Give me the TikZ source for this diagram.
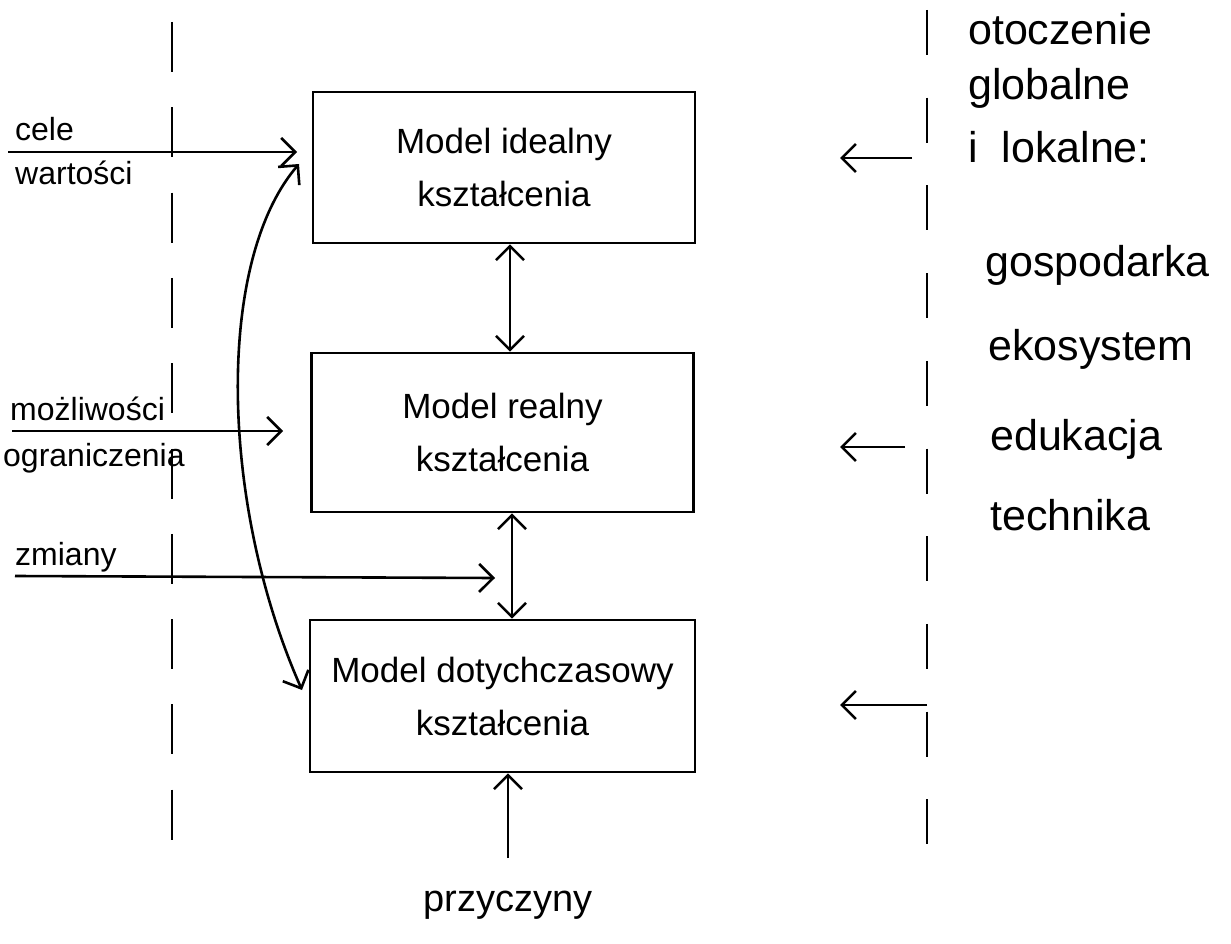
\documentclass[tikz,border=0pt]{standalone}
\usepackage{fontspec}
\setmainfont{Liberation Sans}
\usetikzlibrary{arrows.meta}
\tikzset{
  modelbox/.style={draw, line width=2.6pt, minimum width=382pt, minimum height=152pt, align=center, font=\fontsize{35}{53}\selectfont, inner sep=0pt},
  arr/.style={line width=2.6pt, -{Straight Barb[length=14pt,width=28pt,line width=2.6pt]}},
  darr/.style={line width=2.6pt, {Straight Barb[length=14pt,width=28pt,line width=2.6pt]}-{Straight Barb[length=14pt,width=28pt,line width=2.6pt]}},
  sep/.style={line width=2.8pt},
  lbl/.style={font=\fontsize{32}{38}\selectfont, inner sep=0pt, anchor=base west},
  rlbl/.style={font=\fontsize{43}{50}\selectfont, inner sep=0pt, anchor=base west}
}
\begin{document}
\begin{tikzpicture}[x=1pt,y=-1pt]
\useasboundingbox (0,0) rectangle (1231,944);
% separators
\coordinate (lt) at (172,22);
\coordinate (lb) at (172,840);
\coordinate (rt) at (927,10);
\coordinate (rb) at (927,845);
\draw[sep, dash pattern=on 50pt off 35.3pt] (lt) -- (lb);
\draw[sep, dash pattern=on 45pt off 42.7pt] (rt) -- (rb);
% boxes
\node[modelbox, minimum height=151pt] (m1) at (504,167.5) {Model idealny\\kształcenia};
\node[modelbox, minimum height=159pt] (m2) at (502.5,432.5) {Model realny\\kształcenia};
\node[modelbox, minimum width=385pt] (m3) at (502.5,696) {Model dotychczasowy\\kształcenia};
% vertical arrows
\draw[darr] (m1.south -| 510,0) -- (m2.north -| 510,0);
\draw[darr] (m2.south -| 512,0) -- (m3.north -| 512,0);
\node[font=\fontsize{38}{44}\selectfont, inner sep=0pt] (prz) at (508,905) {przyczyny};
\coordinate (przS) at (508,858);
\draw[arr] (przS) -- (m3.south -| 508,0);
% left inputs
\coordinate (celeS) at (8,152);
\coordinate (celeE) at (297,152);
\draw[arr] (celeS) -- (celeE);
\node[lbl] (cele) at (15,141) {cele};
\node[lbl] (wart) at (15,185) {wartości};
\coordinate (mozS) at (12,431);
\coordinate (mozE) at (283,431);
\draw[arr] (mozS) -- (mozE);
\node[lbl] (moz) at (10,420) {możliwości};
\node[lbl] (ogr) at (3,466) {ograniczenia};
\coordinate (zmS) at (15,576);
\coordinate (zmE) at (495,578);
\draw[arr] (zmS) -- (zmE);
\node[lbl] (zm) at (15,565) {zmiany};
% curved link idealny <-> dotychczasowy
\coordinate (cA) at (299,164);
\coordinate (cB) at (302,690);
\draw[darr] (cA) .. controls (215,262) and (220,505) .. (cB);
% right environment
\coordinate (r1) at (912,158);
\coordinate (r2) at (905,447);
\coordinate (r3) at (927,705);
\draw[arr] (r1) -- (840,158);
\draw[arr] (r2) -- (840,447);
\draw[arr] (r3) -- (840,705);
\node[rlbl] (ot1) at (968,45) {otoczenie};
\node[rlbl] (ot2) at (968,100) {globalne};
\node[rlbl] (ot3) at (968,163) {i\ \ lokalne:};
\node[rlbl] (e1) at (985,276) {gospodarka};
\node[rlbl] (e2) at (988,360) {ekosystem};
\node[rlbl] (e3) at (990,450) {edukacja};
\node[rlbl] (e4) at (990,530) {technika};
\end{tikzpicture}
\end{document}
